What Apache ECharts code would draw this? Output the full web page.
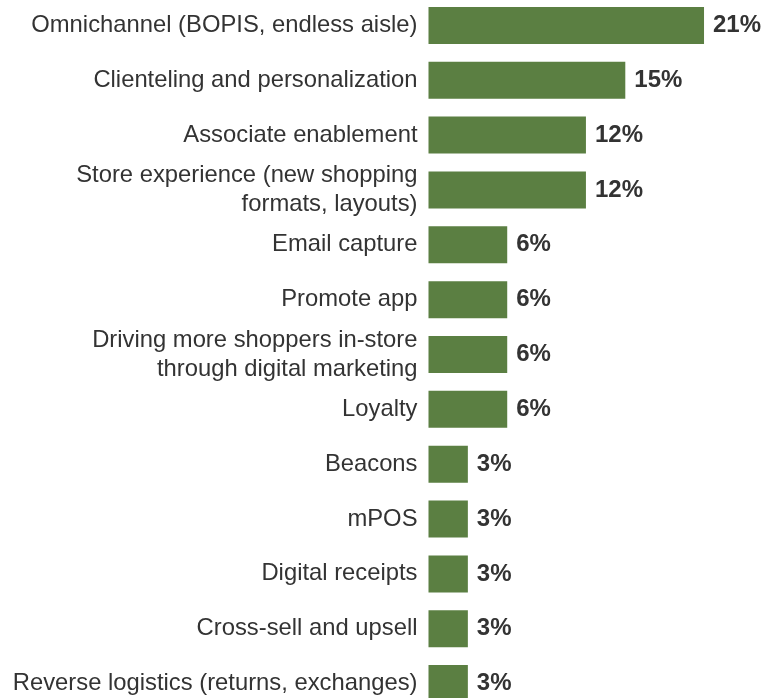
<!DOCTYPE html>
<html>
<head>
<meta charset="utf-8">
<style>
  html, body { margin: 0; padding: 0; background: #ffffff; }
  #chart { width: 768px; height: 698px; }
</style>
<script src="https://cdn.jsdelivr.net/npm/echarts@6/dist/echarts.min.js"></script>
</head>
<body>
<div id="chart"></div>
<script>
// Initiatives, top to bottom
const categories = [
  'Omnichannel (BOPIS, endless aisle)',
  'Clienteling and personalization',
  'Associate enablement',
  'Store experience (new shopping\nformats, layouts)',
  'Email capture',
  'Promote app',
  'Driving more shoppers in-store\nthrough digital marketing',
  'Loyalty',
  'Beacons',
  'mPOS',
  'Digital receipts',
  'Cross-sell and upsell',
  'Reverse logistics (returns, exchanges)'
];

// Share of respondents, percent
const shares = [21, 15, 12, 12, 6, 6, 6, 6, 3, 3, 3, 3, 3];

const FONT = "'Liberation Sans', Arial, Helvetica, sans-serif";
const TEXT = '#333333';
const BAR = '#5b7f42';

const chart = echarts.init(document.getElementById('chart'), null, { renderer: 'canvas' });

chart.setOption({
  animation: false,
  backgroundColor: '#ffffff',
  grid: {
    left: 428.5,
    right: 11.5,
    top: -2,
    bottom: -13,
    containLabel: false,
    outerBoundsMode: 'none'
  },
  xAxis: {
    type: 'value',
    min: 0,
    max: 25,
    show: false
  },
  yAxis: {
    type: 'category',
    data: categories,
    inverse: true,
    axisLine: { show: false },
    axisTick: { show: false },
    splitLine: { show: false },
    axisLabel: {
      margin: 11,
      color: TEXT,
      fontFamily: FONT,
      fontSize: 23.8,
      lineHeight: 29,
      align: 'right'
    }
  },
  series: [{
    type: 'bar',
    data: shares,
    barWidth: 37,
    itemStyle: { color: BAR },
    label: {
      show: true,
      position: 'right',
      distance: 9,
      formatter: p => p.value + '%',
      color: TEXT,
      fontFamily: FONT,
      fontSize: 24,
      fontWeight: 'bold'
    }
  }]
});
</script>
</body>
</html>
